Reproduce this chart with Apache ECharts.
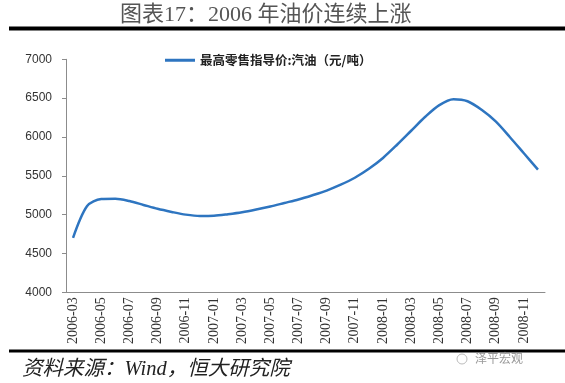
<!DOCTYPE html>
<html><head><meta charset="utf-8">
<script src="https://cdn.jsdelivr.net/npm/echarts@6/dist/echarts.min.js"></script>
<style>html,body{margin:0;padding:0;background:#fff}#c{width:565px;height:383px}</style>
</head><body><div id="c"></div>
<script>
const categories = ['2006-03','2006-04','2006-05','2006-06','2006-07','2006-08','2006-09','2006-10','2006-11','2006-12',
'2007-01','2007-02','2007-03','2007-04','2007-05','2007-06','2007-07','2007-08','2007-09','2007-10','2007-11','2007-12',
'2008-01','2008-02','2008-03','2008-04','2008-05','2008-06','2008-07','2008-08','2008-09','2008-10','2008-11','2008-12'];
const gasoline = [4700,5110,5200,5205,5175,5125,5075,5035,5000,4982,
4985,5005,5030,5065,5105,5150,5195,5250,5310,5385,5475,5590,
5730,5900,6080,6260,6410,6485,6460,6350,6200,6000,5790,5580];
const yTicks = [4000,4500,5000,5500,6000,6500,7000];
const seriesName = '最高零售指导价:汽油（元/吨）';
const titleText = '图表17：2006 年油价连续上涨';
const sourceText = '资料来源：Wind，恒大研究院';

const chart = echarts.init(document.getElementById('c'), null, {renderer:'canvas'});
chart.setOption({
  animation:false,
  grid:{left:66,right:20,top:59.3,bottom:90.7,containLabel:false},
  legend:{top:49,left:160,itemWidth:30,itemHeight:3,itemGap:4,
    icon:'rect',
    textStyle:{fontFamily:'"Noto Sans CJK SC"',fontWeight:'bold',fontSize:12.5,color:'#222'},
    data:[seriesName]},
  xAxis:{type:'category',data:categories,boundaryGap:true,
    axisLine:{lineStyle:{color:'#8c8c8c',width:1}},
    axisTick:{interval:1,length:4,lineStyle:{color:'#8c8c8c'}},
    axisLabel:{interval:1,rotate:90,fontFamily:'"Liberation Serif"',fontSize:14,color:'#333',margin:5}},
  yAxis:{type:'value',min:yTicks[0],max:yTicks[yTicks.length-1],interval:500,
    splitLine:{show:false},
    axisLine:{show:true,lineStyle:{color:'#8c8c8c'}},
    axisTick:{show:true,length:4,lineStyle:{color:'#8c8c8c'}},
    axisLabel:{fontFamily:'"Liberation Sans"',fontSize:12,color:'#333',margin:14,formatter:v=>String(v)}},
  series:[{name:seriesName,type:'line',data:gasoline,smooth:0.3,showSymbol:false,
    lineStyle:{color:'#2e75c0',width:2.5},itemStyle:{color:'#2e75c0'}}],
  graphic:[
    {type:'text',left:120,top:4,style:{text:titleText,fontSize:22,fontWeight:'normal',fontFamily:'"Liberation Serif","Noto Sans CJK SC"',fill:'#555'}},
    {type:'rect',shape:{x:9,y:26.5,width:556,height:4},style:{fill:'#000'}},
    {type:'rect',shape:{x:9,y:349.5,width:556,height:3},style:{fill:'#000'}},
    {type:'text',left:22,top:359,style:{text:sourceText,fontSize:20.5,fontStyle:'italic',fontFamily:'"Liberation Serif","Noto Sans CJK SC"',fill:'#222'}},
    {type:'text',left:475,top:352,style:{text:'泽平宏观',fontSize:12,fontFamily:'"Noto Sans CJK SC"',fill:'#999'}},
    {type:'circle',shape:{cx:462,cy:359,r:5},style:{fill:'none',stroke:'#bbb',lineWidth:1}}
  ]
});
</script></body></html>
